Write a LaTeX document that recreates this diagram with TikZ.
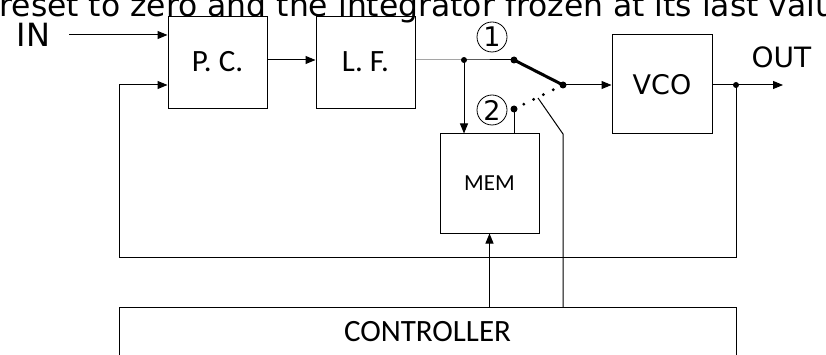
\documentclass[tikz,border=0pt]{standalone}
\usepackage{fontspec}
\setmainfont{Carlito}
\newfontfamily\dv{DejaVu Sans}
\usetikzlibrary{arrows.meta,calc}
\begin{document}
\begin{tikzpicture}[x=1pt,y=-1pt,line width=1pt,
  blk/.style={draw,minimum width=99pt,minimum height=99pt,inner sep=0pt},
  arr/.style={-{Triangle[length=10pt,width=8pt]}},
  jdot/.style={circle,fill,inner sep=0pt,minimum size=6pt},
  numc/.style={circle,draw,line width=0.8pt,minimum size=30pt,inner sep=0pt,font=\dv\fontsize{27}{30}\selectfont}]
\useasboundingbox (0,0) rectangle (826,355);
\clip (0,0) rectangle (826,355);
% clipped caption text at the top
\node[anchor=base west,inner sep=0pt,font=\dv\fontsize{31.4}{36}\selectfont] (cap) at (-1,17) {reset to zero and the integrator frozen at its last value};
% blocks
\node[blk,minimum height=92pt,font=\fontsize{31}{36}\selectfont] (pc) at (217.5,63) {\raisebox{3pt}{P. C.}};
\node[blk,minimum height=92pt,font=\fontsize{31}{36}\selectfont] (lf) at (365.5,63) {\raisebox{3pt}{L. F.}};
\node[blk,minimum width=100pt,font=\dv\fontsize{27}{32}\selectfont] (vco) at (662,84.5) {VCO};
\node[blk,font=\fontsize{23}{28}\selectfont] (mem) at (489.5,183.5) {MEM};
\node[draw,minimum width=617pt,minimum height=80pt,inner sep=0pt,anchor=north] (ctrl) at (427.5,307) {};
\node[font=\fontsize{31}{36}\selectfont,inner sep=0pt] (ctrltxt) at (427.5,332) {CONTROLLER};
% labels
\node[font=\dv\fontsize{32}{36}\selectfont,inner sep=0pt] (in) at (33.5,35) {IN};
\node[font=\dv\fontsize{28}{32}\selectfont,inner sep=0pt] (out) at (781.5,57.5) {OUT};
\node[numc] (n1) at (492,37) {1};
\node[numc] (n2) at (492,110) {2};
% coordinates
\coordinate (inS) at (69,35);
\node[jdot] (j1) at (464,60) {};
\node[jdot,minimum size=7pt] (p1) at (514,60) {};
\node[jdot,minimum size=7pt] (p2) at (514,109) {};
\node[jdot,minimum size=7pt] (piv) at (563,85) {};
\node[jdot] (j2) at (736,85) {};
\coordinate (outE) at (783,85);
\coordinate (fb) at (119,257);
\coordinate (fbL) at (119,85);
\coordinate (act) at (538,98);
\coordinate (bend) at (563,134);
% connectors
\draw[arr] (inS) -- (inS -| pc.west);
\draw[arr] (pc.east |- 0,60) -- (lf.west |- 0,60);
\draw (lf.east |- 0,60) -- (j1.center) -- (p1.center);
\draw[arr] (j1.center) -- (j1 |- mem.north);
\draw (p2.center) -- (p2 |- mem.north);
\draw[line width=3pt] (p1.center) -- (piv.center);
\foreach \t in {0.2,0.4,0.6,0.8}
  \fill ($(p2.center)!\t!(piv.center)$) circle (1.6pt);
\draw[arr] (piv.center) -- (vco.west |- piv);
\draw (vco.east |- j2) -- (j2.center);
\draw[arr] (j2.center) -- (outE);
\draw[arr] (j2.center) |- (fb) -- (fbL) -- (fbL -| pc.west);
\draw (act) -- (bend) -- (bend |- ctrl.north);
\draw[arr] (ctrl.north -| mem) -- (mem.south);
\end{tikzpicture}
\end{document}
